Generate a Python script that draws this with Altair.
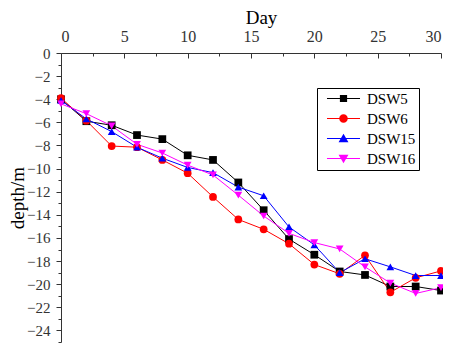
import altair as alt
import pandas as pd

days = [0, 2, 4, 6, 8, 10, 12, 14, 16, 18, 20, 22, 24, 26, 28, 30]
series_names = ["DSW5", "DSW6", "DSW15", "DSW16"]
dsw5 = [-4.0, -5.9, -6.25, -7.1, -7.45, -8.85, -9.25, -11.2, -13.6, -16.1, -17.45, -18.9, -19.2, -20.2, -20.2, -20.55]
dsw6 = [-3.9, -5.85, -8.05, -8.15, -9.25, -10.4, -12.45, -14.4, -15.25, -16.5, -18.3, -19.1, -17.5, -20.7, -19.45, -18.85]
dsw15 = [-4.1, -5.7, -6.8, -8.15, -9.1, -9.9, -10.35, -11.6, -12.35, -15.05, -16.6, -19.0, -17.8, -18.5, -19.25, -19.25]
dsw16 = [-4.4, -5.25, -6.3, -7.9, -8.65, -9.7, -10.55, -12.3, -14.1, -15.6, -16.4, -16.95, -18.5, -19.9, -20.8, -20.3]
x_ticks = [i * 2.5 for i in range(13)]
y_ticks = list(range(-25, 1))

colors = ["#000000", "#ff0000", "#0000ff", "#ff00ff"]
shapes = ["square", "circle", "triangle-up", "triangle-down"]
LINE = "M-3.67,-0.12H3.67V0.12H-3.67Z"
legend_paths = [
    LINE + "M-0.8,-0.8H0.8V0.8H-0.8Z",
    LINE + "M-0.95,0A0.95,0.95 0 1,1 0.95,0A0.95,0.95 0 1,1 -0.95,0Z",
    LINE + "M0,-1.05L1.1,0.85L-1.1,0.85Z",
    LINE + "M-1.1,-0.85L1.1,-0.85L0,1.05Z",
]

rows = []
for name, vals in zip(series_names, [dsw5, dsw6, dsw15, dsw16]):
    for d, v in zip(days, vals):
        rows.append({"day": d, "depth": v, "series": name})
df = pd.DataFrame(rows)

FONT = "Liberation Serif, Times New Roman, serif"

x_enc = alt.X(
    "day:Q",
    scale=alt.Scale(domain=[0, 30], nice=False, zero=False),
    axis=alt.Axis(
        orient="top", title="Day", values=x_ticks, tickCount=50, format="d",
        labelExpr="datum.value % 5 === 0 ? datum.label : ''",
        labelOverlap=False,
        tickSize={"condition": {"test": "datum.value % 5 === 0", "value": -5}, "value": -3},
        labelPadding=14, grid=False,
        titleX=200, titleY=-30, titleBaseline="alphabetic",
        titleFontSize=19, titleFont=FONT, titleFontWeight="normal", titleColor="#000",
        labelFont=FONT, labelFontSize=16, labelColor="#333",
        domainColor="#333", tickColor="#333",
    ),
)
y_enc = alt.Y(
    "depth:Q",
    scale=alt.Scale(domain=[-25, 0], nice=False, zero=False),
    axis=alt.Axis(
        title="depth/m", values=y_ticks, tickCount=50, format="d",
        labelExpr="datum.value % 2 === 0 ? datum.label : ''",
        labelOverlap=False,
        tickSize={"condition": {"test": "datum.value % 2 === 0", "value": 5}, "value": 3},
        labelPadding=6, grid=False,
        titleX=-38, titleBaseline="alphabetic",
        titleFontSize=19, titleFont=FONT, titleFontWeight="normal", titleColor="#000",
        labelFont=FONT, labelFontSize=15, labelColor="#333",
        domainColor="#333", tickColor="#333",
    ),
)

color_scale = alt.Scale(domain=series_names, range=colors)

lines = alt.Chart(df).mark_line(strokeWidth=1).encode(
    x=x_enc, y=y_enc,
    color=alt.Color("series:N", scale=color_scale, legend=None),
    order="day:Q",
)
points = alt.Chart(df).mark_point(filled=True, size=60, opacity=1).encode(
    x="day:Q", y="depth:Q",
    color=alt.Color("series:N", scale=color_scale, legend=None),
    shape=alt.Shape("series:N", scale=alt.Scale(domain=series_names, range=shapes), legend=None),
)
legend_layer = alt.Chart(df).transform_filter("false").mark_point(filled=True, opacity=1).encode(
    x="day:Q", y="depth:Q",
    color=alt.Color("series:N", scale=color_scale, legend=alt.Legend(title=None)),
    shape=alt.Shape(
        "series:N",
        scale=alt.Scale(domain=series_names, range=legend_paths),
        legend=alt.Legend(
            title=None, orient="none", legendX=256, legendY=35,
            symbolSize=81, symbolStrokeWidth=0, symbolOffset=16, labelOffset=16,
            labelFont=FONT, labelFontSize=15, labelColor="#000",
            strokeColor="#000", fillColor="#fff", padding=3, rowPadding=4,
        ),
    ),
)

chart = alt.layer(lines, points, legend_layer).resolve_scale(
    color="independent", shape="independent"
).properties(
    width=380, height=289,
    autosize=alt.AutoSizeParams(type="none"),
    padding={"left": 53, "top": 45, "right": 2, "bottom": 2},
).configure_view(stroke=None)

chart.save("out.html", embed_options={"renderer": "svg", "actions": False})
